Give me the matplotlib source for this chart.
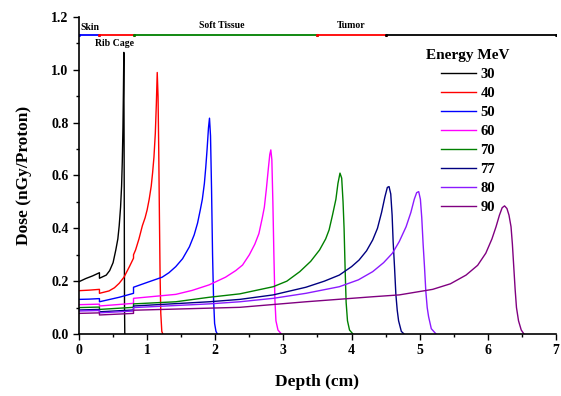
import matplotlib
matplotlib.use('Agg')
import matplotlib.pyplot as plt
from matplotlib.ticker import MultipleLocator, FormatStrFormatter

# Depth-dose curves (depth in cm, dose in nGy/proton)
energies = ['30', '40', '50', '60', '70', '77', '80', '90']

d30 = [0, 0.1, 0.2, 0.3, 0.3, 0.4, 0.45, 0.5, 0.54, 0.57, 0.59, 0.61, 0.625, 0.635, 0.645, 0.652, 0.658,
       0.663, 0.668, 0.672]
v30 = [0.198, 0.21, 0.22, 0.232, 0.211, 0.223, 0.24, 0.27, 0.318, 0.36, 0.41, 0.48, 0.56, 0.65, 0.78, 0.92, 1.066,
       0.6, 0.1, 0.0]

d40 = [0, 0.15, 0.3, 0.3, 0.44, 0.52, 0.59, 0.66, 0.74, 0.8, 0.8, 0.83, 0.88, 0.93, 0.97, 1.0, 1.03, 1.06, 1.08,
       1.10, 1.12, 1.135, 1.148, 1.16, 1.17, 1.18, 1.19, 1.20, 1.215, 1.23]
v40 = [0.164, 0.166, 0.169, 0.154, 0.163, 0.175, 0.192, 0.215, 0.255, 0.287, 0.30, 0.318, 0.36, 0.41, 0.44, 0.47,
       0.51, 0.56, 0.61, 0.67, 0.76, 0.87, 0.99, 0.90, 0.70, 0.45, 0.22, 0.08, 0.01, 0.0]

d50 = [0, 0.15, 0.3, 0.3, 0.59, 0.8, 0.8, 1.03, 1.22, 1.32, 1.42, 1.52, 1.62, 1.69, 1.74, 1.78, 1.81, 1.84, 1.86,
       1.88, 1.90, 1.915, 1.93, 1.945, 1.96, 1.975, 1.99, 2.01, 2.03]
v50 = [0.131, 0.132, 0.134, 0.122, 0.139, 0.154, 0.177, 0.198, 0.215, 0.232, 0.255, 0.285, 0.33, 0.375, 0.42, 0.47,
       0.51, 0.57, 0.63, 0.70, 0.78, 0.817, 0.75, 0.55, 0.30, 0.13, 0.04, 0.01, 0.0]

d60 = [0, 0.3, 0.3, 0.8, 0.8, 1.42, 1.66, 1.91, 2.15, 2.30, 2.40, 2.50, 2.58, 2.64, 2.69, 2.72, 2.75, 2.78, 2.80,
       2.815, 2.83, 2.845, 2.86, 2.875, 2.89, 2.92, 2.97]
v60 = [0.111, 0.113, 0.106, 0.116, 0.135, 0.150, 0.165, 0.186, 0.215, 0.24, 0.261, 0.30, 0.34, 0.38, 0.44, 0.48,
       0.55, 0.63, 0.68, 0.697, 0.66, 0.50, 0.30, 0.13, 0.05, 0.015, 0.0]

d70 = [0, 0.3, 0.3, 0.8, 0.8, 1.42, 1.91, 2.36, 2.85, 3.05, 3.24, 3.40, 3.53, 3.62, 3.67, 3.72, 3.77, 3.80, 3.83,
       3.855, 3.875, 3.89, 3.905, 3.92, 3.94, 3.97, 4.02]
v70 = [0.100, 0.102, 0.093, 0.101, 0.114, 0.122, 0.139, 0.152, 0.179, 0.20, 0.236, 0.275, 0.318, 0.36, 0.394, 0.45,
       0.51, 0.57, 0.609, 0.59, 0.50, 0.40, 0.25, 0.12, 0.05, 0.015, 0.0]

d77 = [0, 0.3, 0.3, 0.8, 0.8, 1.91, 2.36, 2.85, 3.33, 3.60, 3.82, 4.0, 4.11, 4.22, 4.31, 4.38, 4.44, 4.49, 4.525,
       4.55, 4.575, 4.595, 4.61, 4.63, 4.65, 4.67, 4.69, 4.73, 4.77]
v77 = [0.091, 0.093, 0.084, 0.091, 0.106, 0.122, 0.131, 0.148, 0.177, 0.20, 0.223, 0.255, 0.28, 0.315, 0.356, 0.40,
       0.46, 0.52, 0.555, 0.558, 0.53, 0.45, 0.35, 0.255, 0.15, 0.09, 0.05, 0.01, 0.0]

d80 = [0, 0.3, 0.3, 0.8, 0.8, 1.91, 2.36, 2.85, 3.33, 3.82, 4.1, 4.31, 4.47, 4.60, 4.70, 4.80, 4.87, 4.92, 4.955,
       4.985, 5.01, 5.03, 5.05, 5.07, 5.09, 5.11, 5.13, 5.17, 5.24]
v80 = [0.087, 0.089, 0.080, 0.087, 0.100, 0.114, 0.122, 0.135, 0.154, 0.179, 0.205, 0.236, 0.27, 0.306, 0.35, 0.406,
       0.46, 0.51, 0.535, 0.539, 0.51, 0.44, 0.34, 0.255, 0.16, 0.10, 0.066, 0.02, 0.0]

d90 = [0, 0.3, 0.3, 0.8, 0.8, 2.36, 3.33, 4.31, 4.70, 5.19, 5.45, 5.68, 5.85, 5.97, 6.06, 6.12, 6.17, 6.21, 6.245,
       6.28, 6.31, 6.34, 6.36, 6.38, 6.40, 6.42, 6.45, 6.49, 6.53]
v90 = [0.078, 0.080, 0.072, 0.078, 0.090, 0.101, 0.122, 0.141, 0.148, 0.169, 0.19, 0.223, 0.26, 0.306, 0.36, 0.406,
       0.45, 0.478, 0.485, 0.475, 0.45, 0.406, 0.34, 0.255, 0.17, 0.10, 0.05, 0.015, 0.0]

depths = [d30, d40, d50, d60, d70, d77, d80, d90]
doses = [v30, v40, v50, v60, v70, v77, v80, v90]
colors = ['black', '#ff0000', '#0000ff', '#ff00ff', '#008000', '#000080', '#8b1aff', '#800080']

# tissue layers drawn along the top
tissue_edges = [0, 0.3, 0.8, 3.5, 4.5, 7.0]
tissue_colors = ['#0000ff', '#ff0000', '#008000', '#ff0000', 'black']
tissue_level = 1.133
tissue_names = ['Skin', 'Rib Cage', 'Soft Tissue', 'Tumor']
tissue_label_x = [0.02, 0.24, 2.09, 4.0]
tissue_label_y = [1.162, 1.10, 1.167, 1.167]
tissue_label_ha = ['left', 'left', 'center', 'center']

plt.rcParams['font.family'] = ['Liberation Serif', 'DejaVu Serif']
plt.rcParams['font.weight'] = 'bold'

fig = plt.figure(figsize=(5.61, 3.96), dpi=100)
ax = fig.add_axes([79/561, 62/396, 477/561, 317/396])

for d, v, c, e in zip(depths, doses, colors, energies):
    ax.plot(d, v, color=c, lw=1.0, label=e)

for i in range(len(tissue_colors)):
    ax.plot(tissue_edges[i:i+2], [tissue_level, tissue_level], color=tissue_colors[i],
            lw=1.3, marker='o', ms=1.2, solid_capstyle='butt')

for name, x, y, ha in zip(tissue_names, tissue_label_x, tissue_label_y, tissue_label_ha):
    ax.text(x, y, name, ha=ha, va='center', fontsize=7, fontweight='bold')

ax.set_xlim(0, 7)
ax.set_ylim(0, 1.2)
ax.xaxis.set_major_locator(MultipleLocator(1))
ax.xaxis.set_minor_locator(MultipleLocator(0.5))
ax.yaxis.set_major_locator(MultipleLocator(0.2))
ax.yaxis.set_minor_locator(MultipleLocator(0.1))
ax.yaxis.set_major_formatter(FormatStrFormatter('%.1f'))
ax.tick_params(which='both', direction='out', labelsize=10, width=1.0)
ax.tick_params(which='major', length=4)
ax.tick_params(which='minor', length=2.5)
ax.spines['top'].set_visible(False)
ax.spines['right'].set_visible(False)
for s in ['left', 'bottom']:
    ax.spines[s].set_linewidth(1.2)
for lab in ax.get_xticklabels() + ax.get_yticklabels():
    lab.set_fontweight('bold')

ax.set_xlabel('Depth (cm)', fontsize=12.5, fontweight='bold', labelpad=12)
ax.set_ylabel('Dose (nGy/Proton)', fontsize=12.5, fontweight='bold', labelpad=14)

leg = ax.legend(loc='upper center', bbox_to_anchor=(0.816, 0.95), frameon=False,
                title='Energy MeV', fontsize=10.5, title_fontsize=11,
                handlelength=2.4, labelspacing=0.4, handletextpad=0.3, borderpad=0.6)
leg.get_title().set_fontweight('bold')
for t in leg.get_texts():
    t.set_fontweight('bold')

fig.savefig('out.png', dpi=100)
